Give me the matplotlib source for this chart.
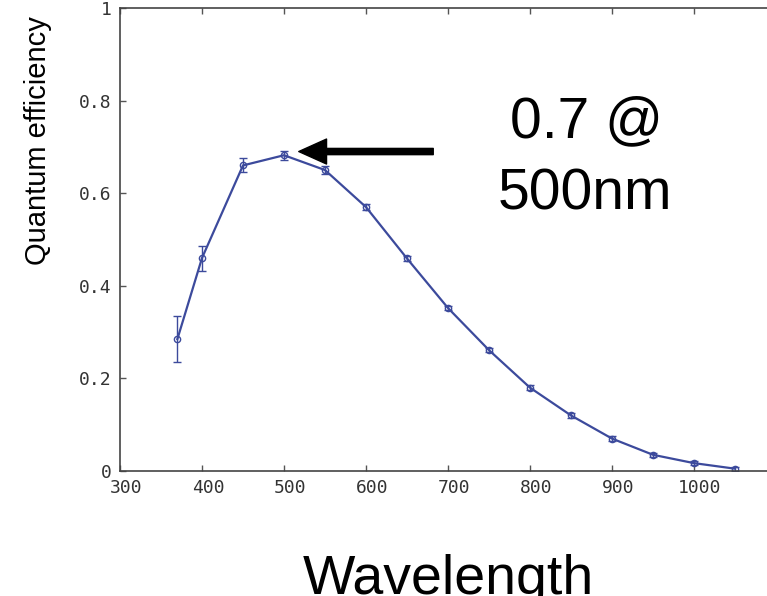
# Quantum efficiency vs wavelength, with the 500 nm peak called out
import numpy as np
import matplotlib.pyplot as plt
import matplotlib as mpl
from matplotlib.transforms import ScaledTranslation

mpl.rcParams["font.family"] = ["Liberation Sans", "DejaVu Sans"]

# measured points (nm) and efficiency with error bars
wavelength = [370, 400, 450, 500, 550, 600, 650, 700, 750, 800, 850, 900, 950, 1000, 1050]
efficiency = [0.285, 0.46, 0.66, 0.682, 0.65, 0.57, 0.459, 0.352, 0.261, 0.18, 0.12,
              0.07, 0.035, 0.017, 0.005]
err = [0.05, 0.027, 0.015, 0.01, 0.008, 0.006, 0.005, 0.005, 0.005, 0.005, 0.005,
       0.005, 0.004, 0.004, 0.004]

xticks = [300, 400, 500, 600, 700, 800, 900, 1000]
yticks = [0, 0.2, 0.4, 0.6, 0.8, 1]
yticklabels = ["0", "0.2", "0.4", "0.6", "0.8", "1"]

peak_x = 500
peak_y = 0.69
note_lines = ["0.7 @", "500nm"]

W, H = 767, 596
fig = plt.figure(figsize=(W / 100, H / 100), dpi=100)
ax = fig.add_axes([120 / W, 125 / H, 656 / W, 463 / H])

line_col = "#3c4a9c"
ax.errorbar(wavelength, efficiency, yerr=err, color=line_col, lw=1.6,
            marker="o", ms=4.5, mfc="none", mec=line_col, mew=1.0,
            capsize=3, elinewidth=1.0, capthick=1.0)

ax.set_xlim(300, 1100)
ax.set_ylim(0, 1)
ax.set_xticks(xticks)
ax.set_xticklabels([])
ax.set_yticks(yticks)
ax.set_yticklabels(yticklabels)
ax.tick_params(direction="in", length=4, width=1, color="#555555",
               top=True, labelsize=13, labelcolor="#333333", pad=6)
for lab in ax.get_yticklabels():
    lab.set_family("DejaVu Sans Mono")

# x labels drawn by hand, set a little right of and below their ticks
offset = ScaledTranslation(6 / 100, -8 / 100, fig.dpi_scale_trans)
for t in xticks:
    ax.text(t, 0, str(t), transform=ax.get_xaxis_transform() + offset,
            ha="center", va="top", fontsize=13, color="#333333",
            family="DejaVu Sans Mono")

for side in ["left", "bottom", "top"]:
    ax.spines[side].set_color("#444444")
    ax.spines[side].set_linewidth(1.2)
ax.spines["right"].set_visible(False)

# arrow pointing at the peak
ax.annotate("", xy=(peak_x + 18, peak_y), xytext=(682, peak_y),
            arrowprops=dict(facecolor="black", edgecolor="black",
                            width=4.5, headwidth=18, headlength=20, shrink=0))
fig.text(586 / W, 1 - 137 / H, note_lines[0], fontsize=41,
         ha="center", va="baseline", color="black")
fig.text(585 / W, 1 - 210 / H, note_lines[1], fontsize=41,
         ha="center", va="baseline", color="black")

fig.text(38 / W, 1 - 141 / H, "Quantum efficiency", rotation=90,
         fontsize=21, ha="center", va="center")
fig.text(448 / W, 2 / H, "Wavelength", fontsize=40, ha="center", va="baseline")

fig.savefig("out.png", dpi=100)
